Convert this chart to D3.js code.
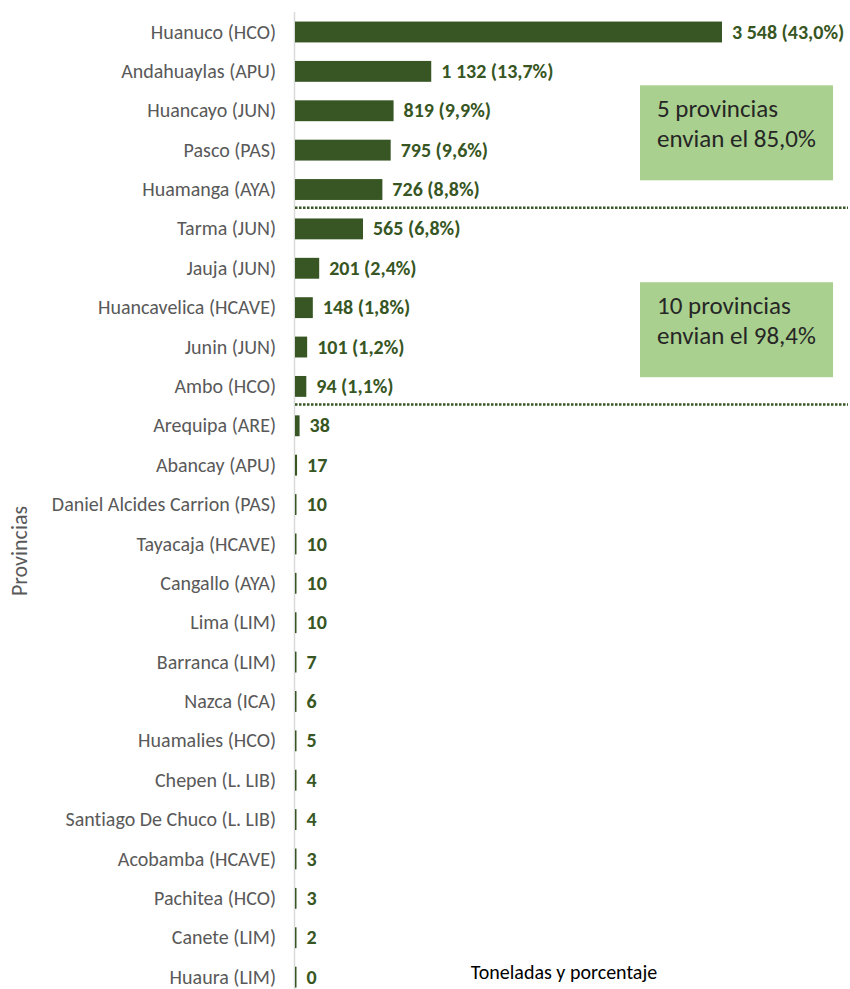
<!DOCTYPE html>
<html>
<head>
<meta charset="utf-8">
<script src="https://cdn.jsdelivr.net/npm/d3@7"></script>
<style>
  body { margin: 0; background: #fff; }
  text { font-family: Carlito, Calibri, "Open Sans", sans-serif; font-variant-ligatures: none; }
</style>
</head>
<body>
<div id="chart"></div>
<script>
// data
const provincias = [
  "Huanuco (HCO)", "Andahuaylas (APU)", "Huancayo (JUN)", "Pasco (PAS)", "Huamanga (AYA)",
  "Tarma (JUN)", "Jauja (JUN)", "Huancavelica (HCAVE)", "Junin (JUN)", "Ambo (HCO)",
  "Arequipa (ARE)", "Abancay (APU)", "Daniel Alcides Carrion (PAS)", "Tayacaja (HCAVE)",
  "Cangallo (AYA)", "Lima (LIM)", "Barranca (LIM)", "Nazca (ICA)", "Huamalies (HCO)",
  "Chepen (L. LIB)", "Santiago De Chuco (L. LIB)", "Acobamba (HCAVE)", "Pachitea (HCO)",
  "Canete (LIM)", "Huaura (LIM)"
];
const toneladas = [3548, 1132, 819, 795, 726, 565, 201, 148, 101, 94, 38, 17, 10, 10, 10, 10, 7, 6, 5, 4, 4, 3, 3, 2, 0];
const porcentajes = ["43,0", "13,7", "9,9", "9,6", "8,8", "6,8", "2,4", "1,8", "1,2", "1,1"];
const notas = [
  {lines: ["5 provincias", "envian el 85,0%"], from: 2},
  {lines: ["10 provincias", "envian el 98,4%"], from: 7}
];
const cortes = [5, 10]; // dotted separator before these rows

const width = 850, height = 989;
const x0 = 295;

const svg = d3.select("#chart").append("svg")
  .attr("width", width)
  .attr("height", height);

const x = d3.scaleLinear()
  .domain([0, 3548])
  .range([x0, 722]);

const y = d3.scaleBand()
  .domain(provincias)
  .range([12.3, 12.3 + 39.38 * provincias.length])
  .paddingInner(0.47)
  .paddingOuter(0.235);

// vertical axis line
svg.append("line")
  .attr("x1", x0 - 0.5).attr("x2", x0 - 0.5)
  .attr("y1", 12).attr("y2", height)
  .attr("stroke", "#d9d9d9")
  .attr("stroke-width", 1.5);

// bars
svg.selectAll(".bar")
  .data(toneladas)
  .enter()
  .append("rect")
  .attr("class", "bar")
  .attr("x", x0)
  .attr("y", (d, i) => y(provincias[i]))
  .attr("width", d => Math.max(1.5, x(d) - x0))
  .attr("height", y.bandwidth())
  .attr("fill", "#375623");

// category labels
svg.selectAll(".cat")
  .data(provincias)
  .enter()
  .append("text")
  .attr("class", "cat")
  .attr("x", 276)
  .attr("y", d => y(d) + y.bandwidth() / 2)
  .attr("dy", "0.33em")
  .attr("text-anchor", "end")
  .attr("fill", "#595959")
  .style("font-size", "20px")
  .text(d => d);

// value labels
svg.selectAll(".val")
  .data(toneladas)
  .enter()
  .append("text")
  .attr("class", "val")
  .attr("x", d => Math.max(x0 + 1.5, x(d)) + 10)
  .attr("y", (d, i) => y(provincias[i]) + y.bandwidth() / 2)
  .attr("dy", "0.33em")
  .attr("fill", "#375623")
  .style("font-size", "20px")
  .style("font-weight", "bold")
  .text((d, i) => {
    const n = d3.format(",")(d).replace(/,/g, " ");
    return porcentajes[i] ? `${n} (${porcentajes[i]}%)` : n;
  });

// dotted separators
cortes.forEach(c => {
  const yy = y(provincias[c]) - (y.step() - y.bandwidth()) / 2 - 1.5;
  svg.append("line")
    .attr("x1", x0).attr("x2", 848)
    .attr("y1", yy).attr("y2", yy)
    .attr("stroke", "#375623")
    .attr("stroke-width", 2.5)
    .attr("stroke-dasharray", "2.5 1.5");
});

// annotation boxes
notas.forEach(n => {
  const top = y(provincias[n.from]) - 15;
  const g = svg.append("g").attr("transform", `translate(640, ${top})`);
  g.append("rect")
    .attr("width", 193)
    .attr("height", 95)
    .attr("fill", "#a9d08e");
  g.selectAll("text")
    .data(n.lines)
    .enter()
    .append("text")
    .attr("x", 17)
    .attr("y", (d, i) => 32 + i * 30)
    .attr("fill", "#262626")
    .style("font-size", "25px")
    .text(d => d);
});

// axis titles
svg.append("text")
  .attr("transform", `translate(27, 551) rotate(-90)`)
  .attr("text-anchor", "middle")
  .attr("fill", "#595959")
  .style("font-size", "22px")
  .text("Provincias");

svg.append("text")
  .attr("x", 564)
  .attr("y", 979)
  .attr("text-anchor", "middle")
  .attr("fill", "#000")
  .style("font-size", "20px")
  .text("Toneladas y porcentaje");
</script>
</body>
</html>
